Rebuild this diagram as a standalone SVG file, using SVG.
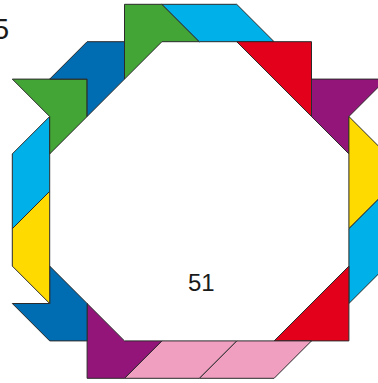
<svg xmlns="http://www.w3.org/2000/svg" width="378" height="383" viewBox="0 0 378 383">
<style>
.p{stroke:#2b2b2b;stroke-width:1;stroke-linejoin:miter}
.g{fill:#43A535}.c{fill:#00B1E9}.b{fill:#006CB2}.r{fill:#E2001A}.v{fill:#931579}.y{fill:#FFDA00}.k{fill:#F09FC0}
.t{font-family:"Liberation Sans",Arial,sans-serif;fill:#1a1a1a}
</style>
<rect width="378" height="383" fill="#fff"/>
<g id="pieces">
<g id="green-top"><polygon class="p g" points="124.5,4.3 161.9,4.3 199.3,41.7 161.9,41.7 124.5,79.1"/></g>
<g id="cyan-top"><polygon class="p c" points="161.9,4.3 236.7,4.3 274.1,41.7 199.3,41.7"/></g>
<g id="red-top"><polygon class="p r" points="236.7,41.7 311.5,41.7 311.5,116.5"/></g>
<g id="purple-right"><polygon class="p v" points="311.5,79.1 386.3,79.1 348.9,116.5 348.9,153.9 311.5,116.5"/></g>
<g id="yellow-right"><polygon class="p y" points="348.9,116.5 386.3,153.9 386.3,191.3 348.9,228.7"/></g>
<g id="cyan-right"><polygon class="p c" points="348.9,228.7 386.3,191.3 386.3,266.1 348.9,303.5"/></g>
<g id="red-bottom"><polygon class="p r" points="274.1,340.9 348.9,340.9 348.9,266.1"/></g>
<g id="pink-2"><polygon class="p k" points="236.7,340.9 311.5,340.9 274.1,378.3 199.3,378.3"/></g>
<g id="pink-1"><polygon class="p k" points="161.9,340.9 236.7,340.9 199.3,378.3 124.5,378.3"/></g>
<g id="purple-bottom"><polygon class="p v" points="87.1,303.5 124.5,340.9 161.9,340.9 124.5,378.3 87.1,378.3"/></g>
<g id="blue-bottom"><polygon class="p b" points="49.7,266.1 87.1,303.5 87.1,340.9 49.7,340.9 12.3,303.5 49.7,303.5"/></g>
<g id="yellow-left"><polygon class="p y" points="49.7,191.3 49.7,303.5 12.3,266.1 12.3,228.7"/></g>
<g id="cyan-left"><polygon class="p c" points="49.7,116.5 49.7,191.3 12.3,228.7 12.3,153.9"/></g>
<g id="green-left"><polygon class="p g" points="12.3,79.1 87.1,79.1 87.1,116.5 49.7,153.9 49.7,116.5"/></g>
<g id="blue-top"><polygon class="p b" points="87.1,41.7 124.5,41.7 124.5,79.1 87.1,116.5 87.1,79.1 49.7,79.1"/></g>
</g>
<g id="labels">
<text class="t" x="188" y="291" font-size="24">51</text>
<text class="t" x="-7" y="39" font-size="29">5</text>
</g>
</svg>
